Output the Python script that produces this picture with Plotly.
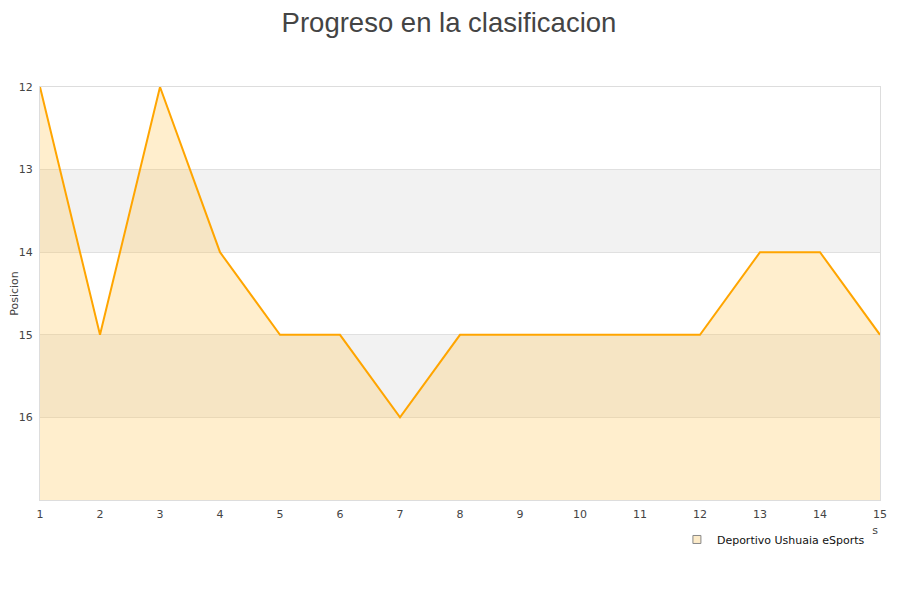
import plotly.graph_objects as go

jornadas = list(range(1, 16))
posiciones = [12, 15, 12, 14, 15, 15, 16, 15, 15, 15, 15, 15, 14, 14, 15]
equipo = "Deportivo Ushuaia eSports"
titulo_x = "Jornadas"
y_ticks = [12, 13, 14, 15, 16]
bandas = [(13, 14), (15, 16)]
y_min, y_max = 12, 17

fig = go.Figure()

# baseline for fill to bottom
fig.add_trace(go.Scatter(x=jornadas, y=[y_max] * len(jornadas), mode="lines",
                         line=dict(width=0, color="rgba(0,0,0,0)"),
                         showlegend=False, hoverinfo="skip"))
fig.add_trace(go.Scatter(x=jornadas, y=posiciones, mode="lines", fill="tonexty",
                         fillcolor="rgba(255,200,90,0.3)",
                         line=dict(color="#FFA500", width=2),
                         name=equipo, showlegend=False))
fig.add_trace(go.Scatter(x=[None], y=[None], mode="markers", name=equipo,
                         marker=dict(symbol="square", size=8, color="#FCEBC9",
                                     line=dict(color="#888", width=1))))
# x-axis title, mostly hidden behind the legend (clipped to a small subplot)
fig.add_trace(go.Scatter(x=[0.75], y=[0.45], mode="text", text=[titulo_x],
                         textposition="middle left", cliponaxis=True,
                         textfont=dict(size=11, color="#444", family="DejaVu Sans"),
                         xaxis="x3", yaxis="y3", showlegend=False, hoverinfo="skip"))

for a, b in bandas:
    fig.add_shape(type="rect", xref="paper", x0=0, x1=1, yref="y", y0=a, y1=b,
                  fillcolor="#F2F2F2", line=dict(width=0), layer="below")

fig.update_layout(
    width=900, height=600,
    paper_bgcolor="white", plot_bgcolor="rgba(0,0,0,0)",
    margin=dict(l=32, r=28, t=79, b=50, autoexpand=False),
    title=dict(text="Progreso en la clasificacion", x=0.49, xanchor="center",
               y=0.976, yanchor="middle",
               font=dict(family="Liberation Sans, Arial", size=27.5, color="#444")),
    font=dict(family="DejaVu Sans", size=11, color="#444"),
    xaxis=dict(range=[1, 15], tickmode="array", tickvals=jornadas, automargin=False,
               showgrid=False, zeroline=False, showline=True, linecolor="#ddd",
               ticks="", ticklabelstandoff=4,
               tickfont=dict(size=11, color="#444"), mirror=True),
    yaxis=dict(domain=[0.1231, 1], range=[y_max, y_min], tickmode="array",
               tickvals=y_ticks, automargin=False,
               showgrid=True, gridcolor="#E0E0E0", zeroline=False,
               showline=True, linecolor="#ddd", mirror=True, ticks="",
               ticklabelstandoff=4,
               title=dict(text="Posicion", font=dict(size=11, color="#444"), standoff=6),
               tickfont=dict(size=11, color="#444")),
    xaxis3=dict(domain=[0.9905, 1.0], anchor="y3", range=[0, 1], automargin=False,
                showticklabels=False, showgrid=False, zeroline=False, showline=False,
                ticks=""),
    yaxis3=dict(domain=[0.038, 0.081], anchor="x3", range=[0, 1], automargin=False,
                showticklabels=False, showgrid=False, zeroline=False, showline=False,
                ticks=""),
    legend=dict(x=0.988, xanchor="right", y=0.0701, yanchor="top",
                bgcolor="white", font=dict(size=11, color="#111"),
                itemwidth=30, tracegroupgap=0),
)

fig.write_html("out.html")
